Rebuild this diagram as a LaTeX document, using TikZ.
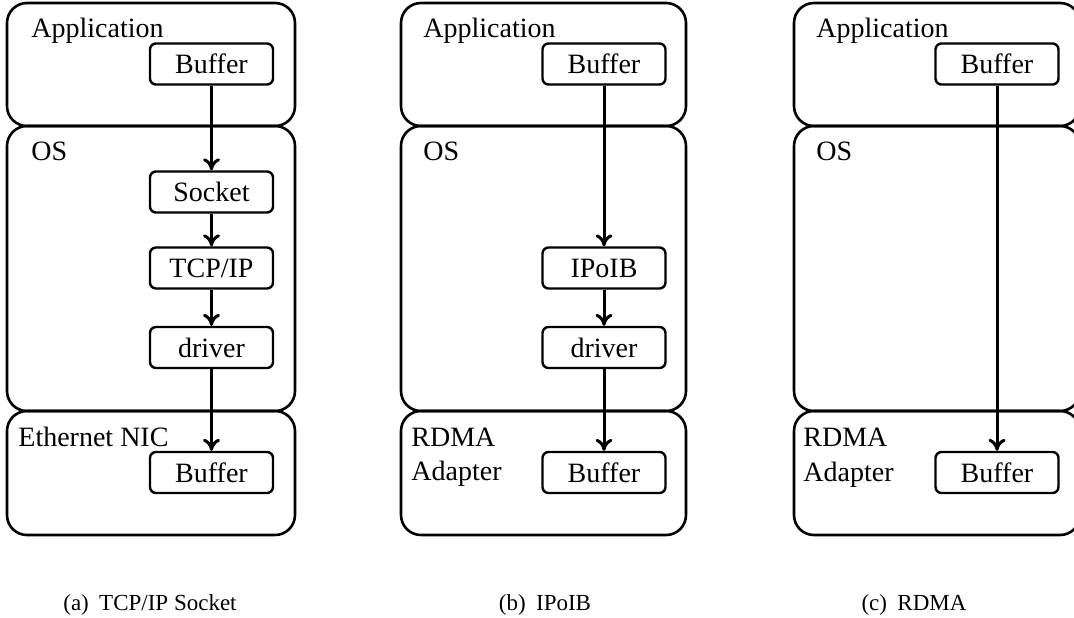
\documentclass[tikz,border=0pt]{standalone}
\usepackage{fontspec}
\setmainfont{Liberation Serif}
\usetikzlibrary{arrows.meta}
\begin{document}
\begin{tikzpicture}[x=0.5pt,y=-0.5pt,
  layer/.style={draw,line width=1.3pt,rounded corners=10pt},
  inbox/.style={draw,line width=1.2pt,rounded corners=3pt,minimum width=61.5pt,minimum height=20.5pt,inner sep=0pt,font=\fontsize{14}{17}\selectfont},
  lbl/.style={anchor=base west,inner sep=0pt,font=\fontsize{14}{17}\selectfont},
  subcap/.style={anchor=base,inner sep=0pt,font=\fontsize{11.5}{14}\selectfont},
  flow/.style={draw,line width=1.5pt,-{To[length=6pt,width=8.5pt]}}]
\clip (0,0) rectangle (1074,617);
% panel a
\draw[layer] (7,3) rectangle (295,126);
\draw[layer] (7,126) rectangle (295,411);
\draw[layer] (7,411) rectangle (295,535);
\node[lbl] (aapp) at (31,37) {Application};
\node[lbl] (aos) at (31,160) {OS};
\node[lbl] (anic) at (18,446) {Ethernet NIC};
\node[inbox] (abuf) at (211.5,64) {Buffer};
\node[inbox] (asock) at (211.5,192) {Socket};
\node[inbox] (atcp) at (211.5,268) {TCP/IP};
\node[inbox] (adrv) at (211.5,347.5) {driver};
\node[inbox] (anbuf) at (211.5,472.5) {Buffer};
\draw[flow] (abuf) -- (asock);
\draw[flow] (asock) -- (atcp);
\draw[flow] (atcp) -- (adrv);
\draw[flow] (adrv) -- (anbuf);
\node[subcap] (acap) at (150,610) {(a)\hspace{0.45em}TCP/IP Socket};
% panel b
\draw[layer] (401,3) rectangle (686,126);
\draw[layer] (401,126) rectangle (686,411);
\draw[layer] (401,411) rectangle (686,535);
\node[lbl] (bapp) at (423,37) {Application};
\node[lbl] (bos) at (423,160) {OS};
\node[lbl] (brd) at (411,446) {RDMA};
\node[lbl] (bad) at (411,480) {Adapter};
\node[inbox] (bbuf) at (604,64) {Buffer};
\node[inbox] (bip) at (604,268) {IPoIB};
\node[inbox] (bdrv) at (604,347.5) {driver};
\node[inbox] (bnbuf) at (604,472.5) {Buffer};
\draw[flow] (bbuf) -- (bip);
\draw[flow] (bip) -- (bdrv);
\draw[flow] (bdrv) -- (bnbuf);
\node[subcap] (bcap) at (545,610) {(b)\hspace{0.45em}IPoIB};
% panel c
\draw[layer] (794,3) rectangle (1080,126);
\draw[layer] (794,126) rectangle (1080,411);
\draw[layer] (794,411) rectangle (1080,535);
\node[lbl] (capp) at (816,37) {Application};
\node[lbl] (cos) at (816,160) {OS};
\node[lbl] (crd) at (803,446) {RDMA};
\node[lbl] (cad) at (803,481) {Adapter};
\node[inbox] (cbuf) at (997,64) {Buffer};
\node[inbox] (cnbuf) at (997,472.5) {Buffer};
\draw[flow] (cbuf) -- (cnbuf);
\node[subcap] (ccap) at (914,610) {(c)\hspace{0.45em}RDMA};
\end{tikzpicture}
\end{document}
